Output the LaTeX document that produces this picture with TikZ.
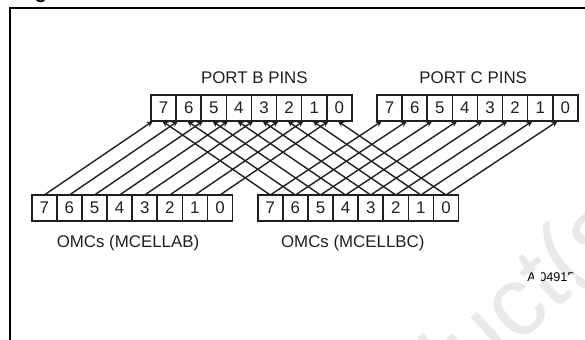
\documentclass[tikz,border=0pt]{standalone}
\usepackage{fontspec}
\setmainfont{Liberation Sans}
\definecolor{ink}{HTML}{231F20}
\definecolor{wmark}{HTML}{E9E9E9}
\usetikzlibrary{arrows.meta}
\tikzset{
  cell/.style={draw=ink, line width=1.15pt, fill=white, minimum width=0.6275cm, minimum height=0.65cm, inner sep=0pt, outer sep=0pt, font=\fontsize{12}{12}\selectfont, text=ink},
  caption/.style={font=\fontsize{12}{12}\selectfont, text=ink},
  wire/.style={ink, line width=1pt, -{Stealth[length=4.5pt, width=4pt]}}
}

\begin{document}
\begin{tikzpicture}
  \useasboundingbox (0,0) rectangle (14.625,8.5);
  \clip (0,0) rectangle (14.625,8.5);
  \node[font=\fontsize{70}{70}\selectfont, text=wmark, rotate=42, anchor=base west] (wmarktext) at (10.8,-2.05) {duct(s};
  \node[font=\fontsize{14}{14}\selectfont\bfseries, anchor=base, text=black] (titletail) at (1.025,8.53) {g};
  \draw[black, line width=1.1pt] (0.255,0) -- (0.255,8.3) -- (14.625,8.3);
  % the four registers
  \foreach \n in {0,...,7} {
    \node[cell] (pb\n) at ({4.09+(7-\n)*0.6275},5.8) {\n};
    \node[cell] (pc\n) at ({9.74+(7-\n)*0.6275},5.8) {\n};
    \node[cell] (ab\n) at ({1.1075+(7-\n)*0.6275},3.3) {\n};
    \node[cell] (bc\n) at ({6.7575+(7-\n)*0.6275},3.3) {\n};
  }
  \node[caption] (pbtitle) at (6.36,6.55) {PORT B PINS};
  \node[caption] (pctitle) at (11.83,6.55) {PORT C PINS};
  \node[caption] (abtitle) at (3.2,2.42) {OMCs (MCELLAB)};
  \node[caption] (bctitle) at (8.82,2.42) {OMCs (MCELLBC)};
  \node[font=\fontsize{9}{9}\selectfont, anchor=west, text=black] (partno) at (13.06,1.57) {AI04915};
  \fill[white] (13.36,1.4) rectangle (13.52,1.75);
  \fill[white] (14.21,1.4) rectangle (14.4,1.62);
  % wires
  \foreach \n in {0,...,7} {
    \draw[wire] (ab\n.north) -- ([xshift=0.05cm]pb\n.south west);
    \draw[wire] (bc\n.north) -- ([xshift=-0.04cm]pb\n.south);
    \draw[wire] (bc\n.north) -- ([xshift=0.125cm]pc\n.south west);
  }
\end{tikzpicture}
\end{document}
